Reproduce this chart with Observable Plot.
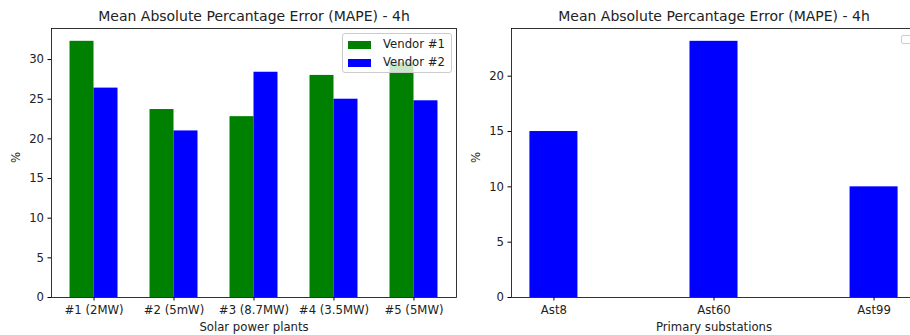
<!DOCTYPE html>
<html>
<head>
<meta charset="utf-8">
<script src="https://cdn.jsdelivr.net/npm/d3@7"></script>
<script src="https://cdn.jsdelivr.net/npm/@observablehq/plot@0.6"></script>
<style>
  html, body { margin: 0; padding: 0; background: white; }
  #wrap { position: relative; width: 910px; height: 335px; overflow: hidden; font-family: "DejaVu Sans", sans-serif; }
  #left, #right { position: absolute; top: 0; width: 460px; height: 335px; }
  #left { left: 0; }
  #right { left: 460px; }
  #wrap svg { max-width: none !important; }
  .legend { position: absolute; background: rgba(255,255,255,0.8); border: 1px solid #cccccc; border-radius: 3px; box-sizing: border-box; }
  .entry { position: absolute; left: 5px; font-size: 11.7px; color: #222; white-space: nowrap; }
  .sw { display: inline-block; width: 23px; height: 8px; vertical-align: middle; margin-right: 12px; }
</style>
</head>
<body>
<div id="wrap">
  <div id="left"></div>
  <div id="right"></div>
</div>
<script>
const title = "Mean Absolute Percantage Error (MAPE) - 4h";
const plants = ["#1 (2MW)", "#2 (5mW)", "#3 (8.7MW)", "#4 (3.5MW)", "#5 (5MW)"];
const vendorNames = ["Vendor #1", "Vendor #2"];
const vendor1 = [32.3, 23.7, 22.8, 28.0, 29.6];
const vendor2 = [26.4, 21.0, 28.4, 25.0, 24.8];
const substations = ["Ast8", "Ast60", "Ast99"];
const substationMape = [15.0, 23.15, 10.0];
const leftTicks = [0, 5, 10, 15, 20, 25, 30];
const rightTicks = [0, 5, 10, 15, 20];

const GREEN = "#008000", BLUE = "#0000ff";
const style = { fontFamily: "DejaVu Sans", fontSize: "11.7px", background: "white", color: "#222", overflow: "visible", maxWidth: "none" };

function decorations(xLabel) {
  return [
    Plot.frame({ stroke: "black", strokeWidth: 0.8 }),
    Plot.text([title], { frameAnchor: "top", dy: -12, fontSize: 14, lineAnchor: "middle", fill: "#222" }),
    Plot.text([xLabel], { frameAnchor: "bottom", dy: 30, lineAnchor: "middle", fill: "#222" }),
    Plot.text(["%"], { frameAnchor: "left", dx: -35, rotate: -90, lineAnchor: "middle", fill: "#222" })
  ];
}

const left = Plot.plot({
  width: 460, height: 335,
  marginTop: 28, marginBottom: 38, marginLeft: 51, marginRight: 4,
  style,
  x: { type: "band", domain: plants, paddingInner: 0.4, paddingOuter: 0.2315, round: false },
  y: { domain: [0, 33.915] },
  marks: [
    Plot.barY(plants, { x: d => d, y: (d, i) => vendor1[i], fill: GREEN, insetLeft: 0, insetRight: 24 }),
    Plot.barY(plants, { x: d => d, y: (d, i) => vendor2[i], fill: BLUE, insetLeft: 24, insetRight: 0 }),
    Plot.axisX({ tickSize: 3.5, tickPadding: 5, label: null, stroke: "black" }),
    Plot.axisY({ ticks: leftTicks, tickSize: 3.5, tickPadding: 4, label: null, stroke: "black" }),
    ...decorations("Solar power plants")
  ]
});
document.getElementById("left").appendChild(left);

const right = Plot.plot({
  width: 460, height: 335,
  marginTop: 28, marginBottom: 38, marginLeft: 51, marginRight: 4,
  style,
  x: { type: "band", domain: substations, paddingInner: 0.7, paddingOuter: 0.115, round: false },
  y: { domain: [0, 24.31] },
  marks: [
    Plot.barY(substations, { x: d => d, y: (d, i) => substationMape[i], fill: BLUE, inset: 0 }),
    Plot.axisX({ tickSize: 3.5, tickPadding: 5, label: null, stroke: "black" }),
    Plot.axisY({ ticks: rightTicks, tickSize: 3.5, tickPadding: 4, label: null, stroke: "black" }),
    ...decorations("Primary substations")
  ]
});
document.getElementById("right").appendChild(right);

// legend for left panel (inside the axes, upper right)
const wrap = document.getElementById("wrap");
const lg = document.createElement("div");
lg.className = "legend";
Object.assign(lg.style, { left: "342px", top: "33px", width: "110px", height: "40px" });
[GREEN, BLUE].forEach((c, i) => {
  const e = document.createElement("div");
  e.className = "entry";
  e.style.top = (3 + i * 18) + "px";
  e.innerHTML = `<span class="sw" style="background:${c}"></span>${vendorNames[i]}`;
  lg.appendChild(e);
});
wrap.appendChild(lg);

// empty legend box of right panel
const lg2 = document.createElement("div");
lg2.className = "legend";
Object.assign(lg2.style, { left: "901px", top: "35px", width: "12px", height: "9px", borderRadius: "2px" });
wrap.appendChild(lg2);
</script>
</body>
</html>
